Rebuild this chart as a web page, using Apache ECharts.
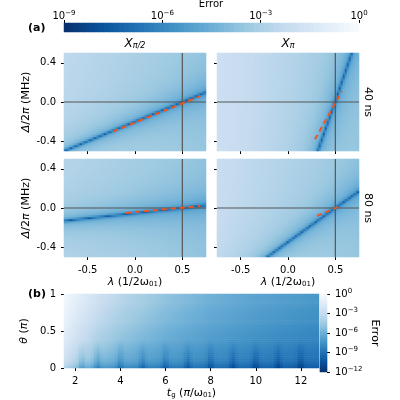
<!DOCTYPE html><html><head><meta charset="utf-8">
<script src="https://cdn.jsdelivr.net/npm/echarts@6/dist/echarts.min.js"></script>
<style>html,body{margin:0;background:#fff}#c{width:400px;height:400px}</style></head><body><div id="c"></div>
<script>
// ---- data ----
const valleyLamTL=[-0.75,0.5,0.75], valleyDelTL=[-0.5,0,0.1];
const valleyLamTR=[0.317,0.5,0.676], valleyDelTR=[-0.5,0,0.5];
const valleyLamBL=[-0.75,0.5,0.75], valleyDelBL=[-0.13,0,0.03];
const valleyLamBR=[-0.22,0.5,0.75], valleyDelBR=[-0.5,0,0.17];
const bgTL=[-2.4,-3.4], bgTR=[-1.9,-3.3], bgBL=[-2.6,-3.5], bgBR=[-2.1,-3.4];
const valleyLog=-7.0;
const dashTL=[[-0.23,-0.30],[0.69,0.06]];
const dashTR=[[0.285,-0.38],[0.57,0.11]];
const dashBL=[[-0.095,-0.05],[0.69,0.02]];
const dashBR=[[0.306,-0.08],[0.55,0.02]];
const tgPts=[1.5,2,3,4,5,6,8,10,12.8];
const logTop=[-0.2,-1.0,-2.4,-3.4,-4.1,-4.8,-5.8,-6.5,-7.2];
const logBottom=[-4.5,-6.0,-8.0,-8.8,-9.2,-9.5,-10.0,-10.4,-10.8];
const dipTg=[2.3,3,4,5,6,7,8,9,10,11,12];
const cbTopTicks=[-9,-6,-3,0], cbRightTicks=[-12,-9,-6,-3,0];

function interp(xs,ys,x){let i=0;if(x<=xs[0])i=0;else if(x>=xs[xs.length-1])i=xs.length-2;else{while(x>xs[i+1])i++;}
 const t=(x-xs[i])/(xs[i+1]-xs[i]);return ys[i]+t*(ys[i+1]-ys[i]);}
const NX=71,NY=49;
function panelData(vl,vd,bg){const d=[];for(let i=0;i<NX;i++){const lam=-0.75+(i+0.5)*1.5/NX;
 const v=interp(vl,vd,lam);const s=(interp(vl,vd,lam+0.01)-interp(vl,vd,lam-0.01))/0.02;
 const b=bg[0]+(bg[1]-bg[0])*(lam+0.75)/1.5;
 for(let j=0;j<NY;j++){const del=-0.5+(j+0.5)/NY;const dist=Math.abs(del-v)/Math.sqrt(1+s*s);
  const val=b-(b-valleyLog)*(0.7*Math.exp(-dist/0.012)+0.3*Math.exp(-dist/0.1))-0.6*Math.exp(-dist/0.35);
  d.push([i,j,val]);}}return d;}
const BX=85,BY=39;
function panelB(){const d=[];for(let i=0;i<BX;i++){const t=1.5+(i+0.5)*11.3/BX;const a=interp(tgPts,logTop,t),b=interp(tgPts,logBottom,t);
 let dip=0;dipTg.forEach(p=>{dip=Math.min(dip,-1.5*Math.exp(-Math.pow((t-p)/0.15,2)));});
 for(let j=0;j<BY;j++){const th=(j+0.5)/BY;let v=b+(a-b)*Math.pow(th,0.35);v+=dip*Math.max(0,1-th/0.4);d.push([i,j,v]);}}return d;}

const sup=(e)=>'10{s|'+(e<0?'−'+(-e):e)+'}';
const F='DejaVu Sans';
const rich={s:{fontSize:7,verticalAlign:'top',padding:[0,0,6,0],fontFamily:F,color:'#000'}};
const cats=n=>Array.from({length:n},(_,i)=>i);
const grids=[],xA=[],yA=[],series=[];
const xrichL={i:{fontStyle:'italic',fontSize:11,fontFamily:F},sub:{fontSize:7,verticalAlign:'bottom',fontFamily:F}};
function addPanel(left,top,w,h,data,o){
 const g=grids.length;grids.push({left,top,width:w,height:h});
 const xc=xA.length;xA.push({type:'category',gridIndex:g,data:cats(o.nx),show:false,position:o.xpos==='top'?'bottom':'top'});
 const xv=xA.length;xA.push({type:'value',gridIndex:g,min:o.xmin,max:o.xmax,position:o.xpos||'bottom',show:o.xshow!==false,splitLine:{show:false},
   axisLine:{show:false},axisTick:{show:true,length:3,lineStyle:{color:'#000'},customValues:o.xt},
   axisLabel:{show:!!o.xlab,margin:o.xmargin!=null?o.xmargin:8,fontSize:10,fontFamily:F,color:'#000',customValues:o.xt,formatter:o.xfmt,rich},
   name:o.xlab?o.xname:'',nameLocation:'middle',nameGap:o.xgap||20,nameTextStyle:{fontSize:11,fontFamily:F,color:'#000',rich:xrichL}});
 const yc=yA.length;yA.push({type:'category',gridIndex:g,data:cats(o.ny),show:false,position:o.ypos==='right'?'left':'right'});
 const yv=yA.length;yA.push({type:'value',gridIndex:g,min:o.ymin,max:o.ymax,position:o.ypos||'left',show:o.yshow!==false,splitLine:{show:false},
   axisLine:{show:false},axisTick:{show:true,length:3,lineStyle:{color:'#000'},customValues:o.yt},
   axisLabel:{show:!!o.ylab,fontSize:10,fontFamily:F,color:'#000',customValues:o.yt,formatter:o.yfmt,rich},
   name:o.ylab?o.yname:'',nameLocation:'middle',nameGap:o.ygap||30,nameRotate:o.yrot,nameTextStyle:{fontSize:11,fontFamily:F,color:'#000',rich:xrichL}});
 series.push({type:'heatmap',xAxisIndex:xc,yAxisIndex:yc,data,progressive:0,emphasis:{disabled:true}});
 return {xv,yv,hm:series.length-1};}
const fmt1=v=>Math.abs(v)<1e-9?'0.0':v.toFixed(1);
const panels=[
 [64,53,valleyLamTL,valleyDelTL,bgTL,dashTL,true,false],
 [217,53,valleyLamTR,valleyDelTR,bgTR,dashTR,false,false],
 [64,159,valleyLamBL,valleyDelBL,bgBL,dashBL,true,true],
 [217,159,valleyLamBR,valleyDelBR,bgBR,dashBR,false,true]];
const hmA=[];
panels.forEach(p=>{
 const r=addPanel(p[0],p[1],142,98,panelData(p[2],p[3],p[4]),{nx:NX,ny:NY,xmin:-0.75,xmax:0.75,ymin:-0.5,ymax:0.5,
  xt:[-0.5,0,0.5],yt:[-0.4,0,0.4],xlab:p[7],ylab:p[6],xfmt:fmt1,yfmt:fmt1,
  xname:'{i|λ} (1/2ω{sub|01})',yname:'{i|Δ}/2{i|π} (MHz)',ygap:32});
 hmA.push(r.hm);
 const ls={color:'#555',width:1.2};
 series.push({type:'line',xAxisIndex:r.xv,yAxisIndex:r.yv,data:[[0.5,-0.5],[0.5,0.5]],symbol:'none',lineStyle:ls,silent:true});
 series.push({type:'line',xAxisIndex:r.xv,yAxisIndex:r.yv,data:[[-0.75,0],[0.75,0]],symbol:'none',lineStyle:ls,silent:true});
 series.push({type:'line',xAxisIndex:r.xv,yAxisIndex:r.yv,data:p[5],symbol:'none',lineStyle:{color:'#f0541e',width:2,type:[5,4]},silent:true});
});
const rb=addPanel(64,294,255,78,panelB(),{nx:BX,ny:BY,xmin:1.5,xmax:12.8,ymin:0,ymax:1,xt:[2,4,6,8,10,12],yt:[0,0.5,1],
 xlab:true,ylab:true,xfmt:v=>String(v),yfmt:v=>String(v),
 xname:'{i|t}{sub|g} ({i|π}/ω{sub|01})',yname:'{i|θ} ({i|π})',ygap:26});
const NC=59;const cbTop=[];for(let i=0;i<NC;i++)cbTop.push([i,0,-9+(i+0.5)*9/NC]);
const rct=addPanel(64,23,295,9,cbTop,{nx:NC,ny:1,xmin:-9,xmax:0,xpos:'top',xt:cbTopTicks,xlab:true,xmargin:0,xfmt:sup,xname:'',ymin:0,ymax:1,yshow:false});
const NR=78;const cbR=[];for(let j=0;j<NR;j++)cbR.push([0,j,-12+(j+0.5)*12/NR]);
const rcr=addPanel(320,294,7,78,cbR,{nx:1,ny:NR,xmin:0,xmax:1,xshow:false,ymin:-12,ymax:0,ypos:'right',yt:cbRightTicks,ylab:true,yfmt:sup,yname:'Error',ygap:42,yrot:-90});
const blues=['#08306b','#08519c','#2171b5','#4292c6','#6baed6','#9ecae1','#c6dbef','#deebf7','#f7fbff'];
const ri={i:{fontStyle:'italic',fontSize:12,fontFamily:F},s:{fontStyle:'italic',fontSize:8,verticalAlign:'bottom',fontFamily:F}};
const opt={animation:false,grid:grids,xAxis:xA,yAxis:yA,series,
 visualMap:[{show:false,type:'continuous',min:-9,max:0,seriesIndex:hmA.concat([rct.hm]),inRange:{color:blues}},
  {show:false,type:'continuous',min:-12,max:0,seriesIndex:[rb.hm,rcr.hm],inRange:{color:blues}}],
 graphic:[
  {type:'text',x:211,y:4,style:{text:'Error',font:'10px DejaVu Sans',align:'center',verticalAlign:'middle'}},
  {type:'text',left:28,top:23,style:{text:'(a)',font:'bold 11px DejaVu Sans'}},
  {type:'text',left:28,top:289,style:{text:'(b)',font:'bold 11px DejaVu Sans'}},
  {type:'text',x:135,y:44,style:{text:'{i|X}{s|π/2}',rich:ri,align:'center',verticalAlign:'middle'}},
  {type:'text',x:288,y:44,style:{text:'{i|X}{s|π}',rich:ri,align:'center',verticalAlign:'middle'}},
  {type:'text',x:368,y:102,rotation:-Math.PI/2,style:{text:'40 ns',font:'11px DejaVu Sans',align:'center',verticalAlign:'middle'}},
  {type:'text',x:368,y:208,rotation:-Math.PI/2,style:{text:'80 ns',font:'11px DejaVu Sans',align:'center',verticalAlign:'middle'}}
 ]};
const ch=echarts.init(document.getElementById('c'),null,{renderer:'canvas'});
ch.setOption(opt);
</script></body></html>
